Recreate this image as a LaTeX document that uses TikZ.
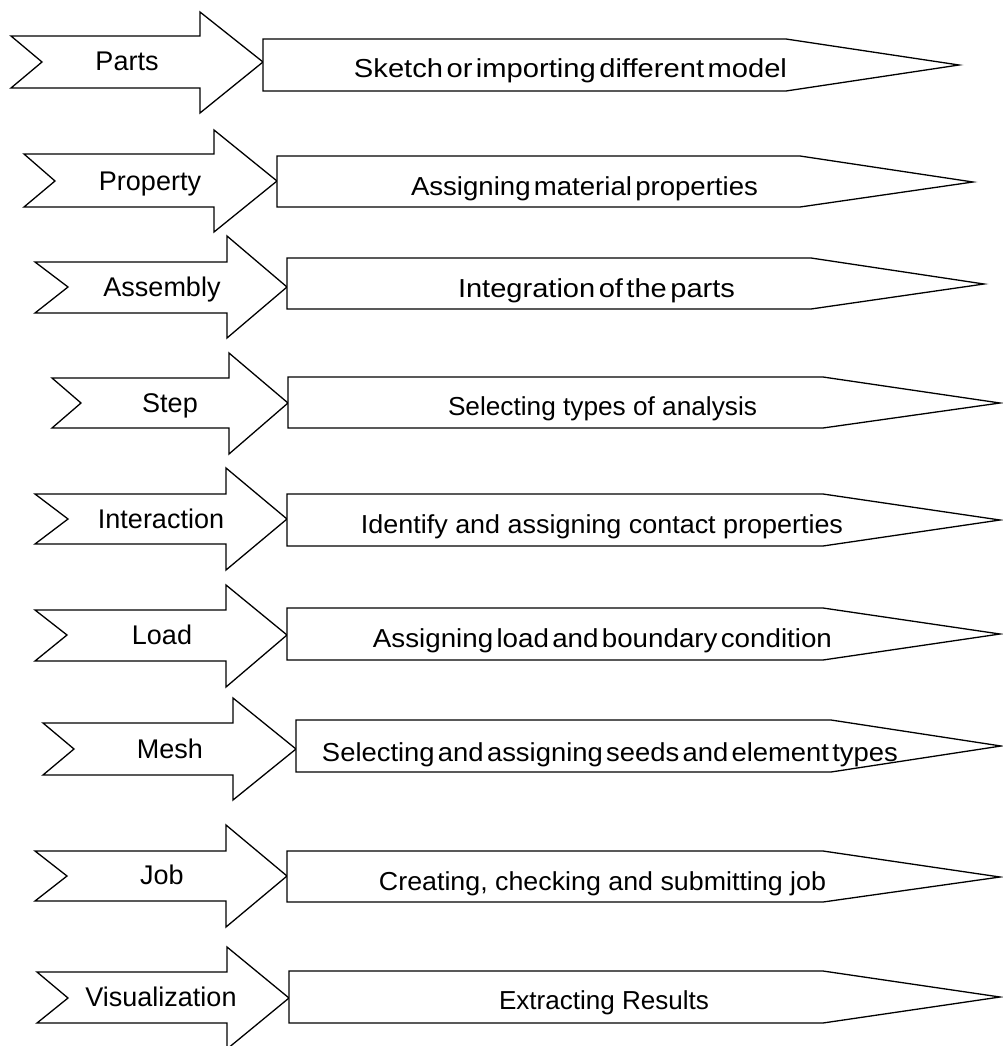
\documentclass[tikz,border=0pt]{standalone}
\usepackage{fontspec}
\usepackage{graphicx}
\setmainfont{Liberation Sans}
\newcommand\fitto[2]{\resizebox{#1pt}{\height}{#2}}
\newcommand\tightsp[1]{{\spaceskip=0.12em\relax #1}}
\begin{document}
\begin{tikzpicture}[x=1pt,y=-1pt,
  shapeline/.style={draw=black, line width=1.3pt, line join=miter, fill=white},
  lbl/.style={anchor=base, font=\fontsize{27}{30}\selectfont, inner sep=0pt},
  desc/.style={anchor=base, font=\fontsize{26}{30}\selectfont, inner sep=0pt}]
\useasboundingbox (0,0) rectangle (1002,1046);
\fill[white] (0,0) rectangle (1002,1046);

% #1 L, #2 T, #3 B, #4 notch, #5 yc, #6 shaft end, #7 head top, #8 head bottom, #9 tip
\newcommand\chev[9]{\draw[shapeline] (#1,#2) -- (#6,#2) -- (#6,#7) -- (#9,#5) -- (#6,#8) -- (#6,#3) -- (#1,#3) -- (#4,#5) -- cycle;}
% #1 L, #2 T, #3 B, #4 rect end, #5 tip x, #6 tip y
\newcommand\pbox[6]{\draw[shapeline] (#1,#2) -- (#4,#2) -- (#5,#6) -- (#4,#3) -- (#1,#3) -- cycle;}

% Row 1 Parts
\chev{11}{36}{88}{42}{62}{200}{12}{113}{263}
\pbox{263}{39}{91}{786}{959}{65}
\node[lbl] (l1) at (127,71) {Parts};
\node[desc] (d1) at (570.5,78) {\fitto{433}{\tightsp{Sketch or importing different model}}};

% Row 2 Property
\chev{24}{154}{207}{55}{181}{214}{130}{232}{277}
\pbox{277}{156}{207}{800}{973}{182}
\node[lbl] (l2) at (150,190) {Property};
\node[desc] (d2) at (584.5,195) {\fitto{347}{\tightsp{Assigning material properties}}};

% Row 3 Assembly
\chev{35}{262}{313}{68}{287}{227}{236}{338}{287}
\pbox{287}{258}{309}{811}{984}{284}
\node[lbl] (l3) at (162,296) {Assembly};
\node[desc] (d3) at (596.5,297) {\fitto{277}{\tightsp{Integration of the parts}}};

% Row 4 Step
\chev{52}{378}{428}{81}{403}{229}{353}{454}{288}
\pbox{288}{377}{428}{823}{1000}{403}
\node[lbl] (l4) at (170,412) {Step};
\node[desc] (d4) at (602.5,415) {\fitto{309}{Selecting types of analysis}};

% Row 5 Interaction
\chev{35}{494}{544}{68}{519}{226}{468}{570}{287}
\pbox{287}{494}{546}{823}{1000}{520}
\node[lbl] (l5) at (161,528) {Interaction};
\node[desc] (d5) at (602,533) {\fitto{482}{Identify and assigning contact properties}};

% Row 6 Load
\chev{35}{610}{661}{67}{635}{226}{585}{687}{287}
\pbox{287}{608}{660}{823}{1000}{634}
\node[lbl] (l6) at (162,644) {Load};
\node[desc] (d6) at (602.5,647) {\fitto{459}{\tightsp{Assigning load and boundary condition}}};

% Row 7 Mesh
\chev{43}{723}{775}{74}{749}{233}{698}{800}{296}
\pbox{296}{720}{772}{831}{1001}{746}
\node[lbl] (l7) at (170,758) {Mesh};
\node[desc] (d7) at (610,761) {\fitto{576}{\tightsp{Selecting and assigning seeds and element types}}};

% Row 8 Job
\chev{35}{851}{901}{67}{876}{226}{825}{927}{287}
\pbox{287}{851}{902}{823}{1000}{877}
\node[lbl] (l8) at (162,884) {Job};
\node[desc] (d8) at (602.5,890) {\fitto{447}{Creating, checking and submitting job}};

% Row 9 Visualization
\chev{37}{972}{1023}{68}{998}{227}{947}{1049}{289}
\pbox{289}{971}{1023}{823}{1000}{997}
\node[lbl] (l9) at (161,1006) {Visualization};
\node[desc] (d9) at (604,1009) {\fitto{210}{Extracting Results}};
\end{tikzpicture}
\end{document}
